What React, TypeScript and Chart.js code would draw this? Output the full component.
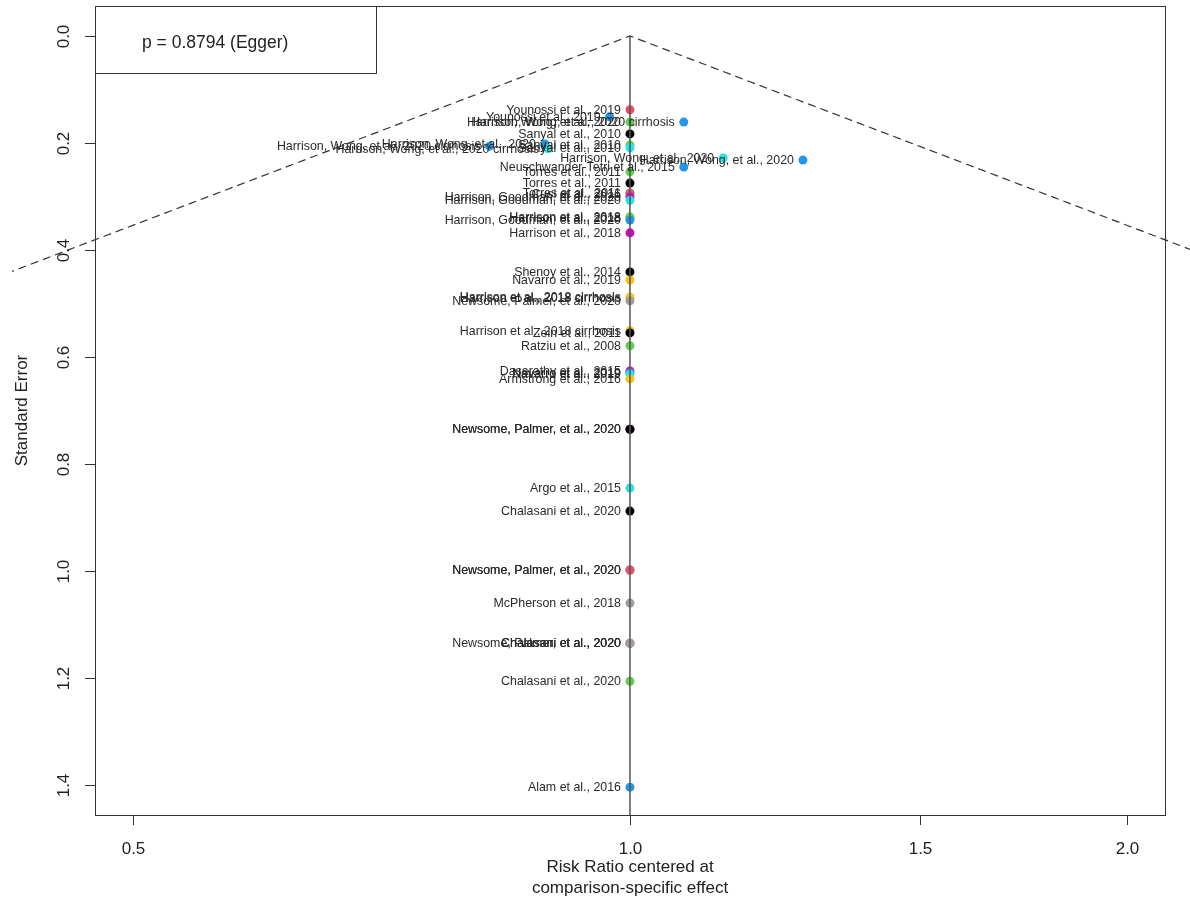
import React, { useEffect, useRef } from "react";
import { Chart, registerables } from "chart.js";

Chart.register(...registerables);

const studyLabels: string[] = [
  "Younossi et al., 2019",
  "Younossi et al., 2019",
  "Harrison, Wong, et al., 2020 cirrhosis",
  "Harrison, Wong, et al., 2020",
  "Sanyal et al., 2010",
  "Sanyal et al., 2010",
  "Sanyal et al., 2010",
  "Harrison, Wong, et al., 2020 cirrhosis",
  "Harrison, Wong, et al., 2020",
  "Harrison, Wong, et al., 2020 cirrhosis",
  "Harrison, Wong, et al., 2020",
  "Harrison, Wong, et al., 2020",
  "Neuschwander-Tetri et al., 2015",
  "Torres et al., 2011",
  "Torres et al., 2011",
  "Torres et al., 2011",
  "Cusi et al., 2016",
  "Harrison, Goodman, et al., 2020",
  "Harrison, Goodman, et al., 2020",
  "Harrison et al., 2018",
  "Harrison et al., 2018",
  "Harrison, Goodman, et al., 2020",
  "Harrison et al., 2018",
  "Shenoy et al., 2014",
  "Navarro et al., 2019",
  "Harrison et al., 2018 cirrhosis",
  "Harrison et al., 2018 cirrhosis",
  "Newsome, Palmer, et al., 2020",
  "Harrison et al., 2018 cirrhosis",
  "Zein et al., 2011",
  "Ratziu et al., 2008",
  "Dasarathy et al., 2015",
  "Navarro et al., 2019",
  "Navarro et al., 2019",
  "Armstrong et al., 2016",
  "Newsome, Palmer, et al., 2020",
  "Newsome, Palmer, et al., 2020",
  "Argo et al., 2015",
  "Chalasani et al., 2020",
  "Newsome, Palmer, et al., 2020",
  "Newsome, Palmer, et al., 2020",
  "McPherson et al., 2018",
  "Newsome, Palmer, et al., 2020",
  "Chalasani et al., 2020",
  "Chalasani et al., 2020",
  "Chalasani et al., 2020",
  "Alam et al., 2016",
];

const riskRatios: number[] = [
  1.0, 0.972, 1.078, 1.0, 1.0, 1.0, 1.0, 0.822, 0.888, 0.892, 1.139, 1.273,
  1.078, 1.0, 1.0, 1.0, 1.0, 1.0, 1.0, 1.0, 1.0, 1.0, 1.0, 1.0, 1.0, 1.0, 1.0,
  1.0, 1.0, 1.0, 1.0, 1.0, 1.0, 1.0, 1.0, 1.0, 1.0, 1.0, 1.0, 1.0, 1.0, 1.0,
  1.0, 1.0, 1.0, 1.0, 1.0,
];

const standardErrors: number[] = [
  0.138, 0.151, 0.161, 0.161, 0.183, 0.204, 0.209, 0.206, 0.202, 0.211, 0.228,
  0.232, 0.245, 0.254, 0.275, 0.293, 0.295, 0.301, 0.307, 0.338, 0.340, 0.344,
  0.368, 0.441, 0.456, 0.488, 0.490, 0.495, 0.551, 0.555, 0.579, 0.626, 0.630,
  0.632, 0.641, 0.735, 0.735, 0.845, 0.888, 0.998, 0.998, 1.060, 1.135, 1.135,
  1.135, 1.206, 1.404,
];

const RED = "#DF536B";
const GREEN = "#61D04F";
const BLUE = "#2297E6";
const CYAN = "#28E2E5";
const MAGENTA = "#CD0BBC";
const YELLOW = "#F5C710";
const GRAY = "#9E9E9E";
const BLACK = "#000000";

const pointColors: string[] = [
  RED, BLUE, BLUE, GREEN, BLACK, GREEN, CYAN, BLUE, BLUE, CYAN, CYAN, BLUE,
  BLUE, GREEN, BLACK, GRAY, RED, MAGENTA, CYAN, GREEN, GREEN, BLUE, MAGENTA,
  BLACK, YELLOW, YELLOW, YELLOW, GRAY, YELLOW, BLACK, GREEN, MAGENTA, BLUE,
  CYAN, YELLOW, MAGENTA, BLACK, CYAN, BLACK, RED, RED, GRAY, RED, GRAY, GRAY,
  GREEN, BLUE,
];

const xTicks: number[] = [0.5, 1.0, 1.5, 2.0];
const xTickLabels: string[] = ["0.5", "1.0", "1.5", "2.0"];
const yTicks: number[] = [0, 0.2, 0.4, 0.6, 0.8, 1.0, 1.2, 1.4];
const yTickLabels: string[] = ["0.0", "0.2", "0.4", "0.6", "0.8", "1.0", "1.2", "1.4"];

const eggerText = "p = 0.8794 (Egger)";
const xTitleLines = ["Risk Ratio centered at", "comparison-specific effect"];
const yTitle = "Standard Error";

const seMax = 1.456;
const FONT = '"Liberation Sans", Arial, Helvetica, sans-serif';

const overlay = {
  id: "rOverlay",
  afterDatasetsDraw(chart: any) {
    const ctx = chart.ctx as CanvasRenderingContext2D;
    const area = chart.chartArea;
    const xs = chart.scales.x;
    const ys = chart.scales.y;

    // point labels
    const meta = chart.getDatasetMeta(2);
    ctx.save();
    ctx.font = `12.4px ${FONT}`;
    ctx.fillStyle = "#2a2a2a";
    ctx.textAlign = "right";
    ctx.textBaseline = "middle";
    meta.data.forEach((el: any, i: number) => {
      ctx.fillText(studyLabels[i], el.x - 9, el.y + 0.5);
    });
    ctx.restore();

    // frame
    ctx.save();
    ctx.strokeStyle = "#333333";
    ctx.lineWidth = 1;
    ctx.strokeRect(area.left + 0.5, area.top + 0.5, area.right - area.left, area.bottom - area.top);

    // x axis ticks
    ctx.font = `17px ${FONT}`;
    ctx.fillStyle = "#222222";
    ctx.textAlign = "center";
    ctx.textBaseline = "middle";
    xTicks.forEach((v, i) => {
      const px = Math.round(xs.getPixelForValue(v)) + 0.5;
      ctx.beginPath();
      ctx.moveTo(px, area.bottom);
      ctx.lineTo(px, area.bottom + 10);
      ctx.stroke();
      ctx.fillText(xTickLabels[i], px, area.bottom + 34);
    });
    ctx.fillText(xTitleLines[0], (area.left + area.right) / 2, area.bottom + 52);
    ctx.fillText(xTitleLines[1], (area.left + area.right) / 2, area.bottom + 73);

    // y axis ticks
    yTicks.forEach((v, i) => {
      const py = Math.round(ys.getPixelForValue(v)) + 0.5;
      ctx.beginPath();
      ctx.moveTo(area.left, py);
      ctx.lineTo(area.left - 10, py);
      ctx.stroke();
      ctx.save();
      ctx.translate(area.left - 31, py);
      ctx.rotate(-Math.PI / 2);
      ctx.fillText(yTickLabels[i], 0, 0);
      ctx.restore();
    });
    ctx.save();
    ctx.translate(22, (area.top + area.bottom) / 2);
    ctx.rotate(-Math.PI / 2);
    ctx.fillText(yTitle, 0, 0);
    ctx.restore();

    // Egger legend box
    ctx.fillStyle = "#ffffff";
    ctx.fillRect(area.left + 0.5, area.top + 0.5, 281, 67);
    ctx.strokeRect(area.left + 0.5, area.top + 0.5, 281, 67);
    ctx.fillStyle = "#222222";
    ctx.font = `17.5px ${FONT}`;
    ctx.textAlign = "left";
    ctx.fillText(eggerText, area.left + 47, area.top + 37);
    ctx.restore();
  },
};

export default function App() {
  const ref = useRef<HTMLCanvasElement>(null);

  useEffect(() => {
    document.body.style.margin = "0";
    const canvas = ref.current!;
    const funnel = [
      { x: Math.exp(-1.96 * seMax), y: seMax },
      { x: 1, y: 0 },
      { x: Math.exp(1.96 * seMax), y: seMax },
    ];
    const vline = [
      { x: 1, y: 0 },
      { x: 1, y: seMax },
    ];
    const points = riskRatios.map((r, i) => ({ x: r, y: standardErrors[i] }));

    const chart = new Chart(canvas, {
      type: "scatter",
      data: {
        datasets: [
          {
            data: funnel,
            showLine: true,
            borderColor: "#333333",
            borderWidth: 1.2,
            borderDash: [8, 5],
            pointRadius: 0,
            clip: { left: 83, top: 6, right: 25, bottom: 0 } as any,
          },
          {
            data: vline,
            showLine: true,
            borderColor: "#555555",
            borderWidth: 1.5,
            pointRadius: 0,
          },
          {
            data: points,
            pointBackgroundColor: pointColors,
            pointBorderWidth: 0,
            pointRadius: 4.5,
            showLine: false,
          },
        ],
      },
      options: {
        animation: false,
        responsive: false,
        devicePixelRatio: 1,
        layout: { padding: { left: 95, right: 25, top: 6, bottom: 87 } },
        plugins: { legend: { display: false }, tooltip: { enabled: false } },
        scales: {
          x: { type: "logarithmic", min: 0.474, max: 2.11, display: false },
          y: { type: "linear", reverse: true, min: -0.056, max: seMax, display: false },
        },
      },
      plugins: [overlay],
    });
    return () => chart.destroy();
  }, []);

  return (
    <div style={{ width: 1190, height: 902, overflow: "hidden", background: "#fff" }}>
      <canvas ref={ref} width={1190} height={902} style={{ display: "block" }} />
    </div>
  );
}
